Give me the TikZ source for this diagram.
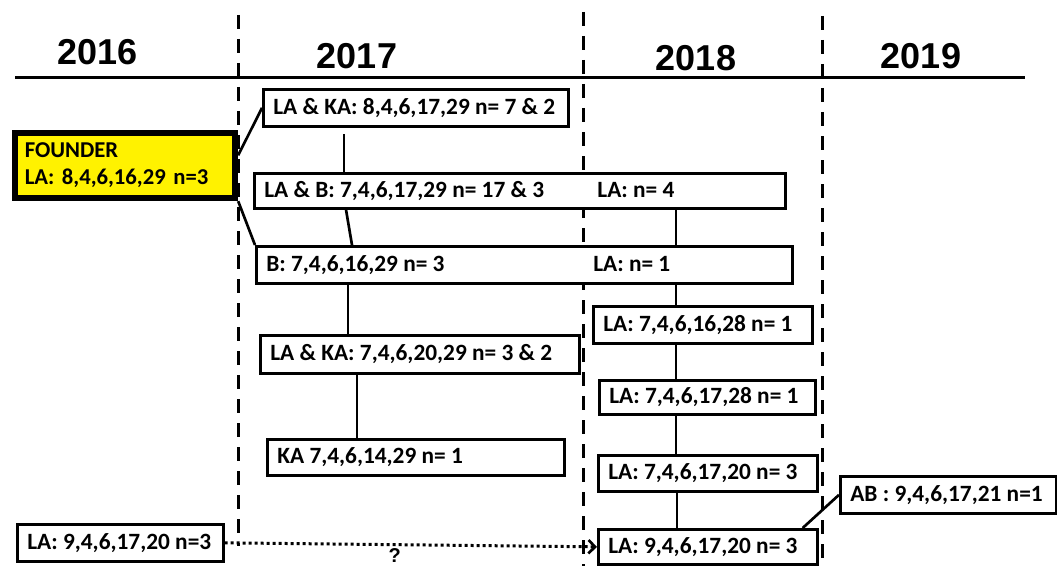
\documentclass[tikz,border=0pt]{standalone}
\usepackage{fontspec}
\setmainfont{Carlito}
\newfontfamily\yearfont{Liberation Sans}
\usetikzlibrary{arrows.meta}
\newcommand\bx[6]{%
  \pgfmathsetmacro\bxw{(#4-#2)*0.75}%
  \pgfmathsetmacro\bxh{(#5-#3)*0.75}%
  \pgfmathsetmacro\bxt{(#4-#2)*0.75-15}%
  \node[box,minimum width=\bxw pt,minimum height=\bxh pt] (#1) at (#2,#3) {\makebox[\bxt pt][l]{#6}};}
\begin{document}
\begin{tikzpicture}[x=0.75pt,y=-0.75pt,
  box/.style={draw,line width=2pt,fill=white,inner xsep=7.5pt,inner ysep=0pt,
    anchor=north west,font=\fontsize{17.5}{20}\selectfont\bfseries},
  founderbox/.style={box,fill=yellow,line width=5pt,align=left},
  link/.style={line width=2pt},
  yearlabel/.style={font=\yearfont\fontsize{27}{30}\selectfont\bfseries},
  sepline/.style={line width=2.25pt,dash pattern=on 10.5pt off 7.5pt}]
\useasboundingbox (0,0) rectangle (1057,567);
% year labels
\node[yearlabel] (y16) at (97.5,52) {2016};
\node[yearlabel] (y17) at (357,56) {2017};
\node[yearlabel] (y18) at (696,58) {2018};
\node[yearlabel] (y19) at (921,56) {2019};
% time axis and separators
\draw[line width=2.25pt] (15,78) -- (1025,78);
\draw[sepline] (238,15) -- (238,546);
\draw[sepline] (583,12) -- (583,566);
\draw[sepline] (822,16) -- (822,560);
% boxes
\node[founderbox,minimum width=165pt,minimum height=48.75pt,text width=150pt,
  font=\fontsize{17}{20}\selectfont\bfseries] (f) at (11.5,129.5) {FOUNDER\\LA: 8,4,6,16,29 n=3};
\bx{b2}{262}{88}{567}{125}{LA \& KA: 8,4,6,17,29 n= 7 \& 2}
\bx{b3}{253}{172}{784}{207}{\makebox[249.75pt][l]{LA \& B: 7,4,6,17,29 n= 17 \& 3}LA: n= 4}
\bx{b4}{255}{245}{791}{282}{\makebox[245.25pt][l]{B: 7,4,6,16,29 n= 3}LA: n= 1}
\bx{b5}{592}{305}{811}{342}{LA: 7,4,6,16,28 n= 1}
\bx{b6}{259}{334}{578}{372}{LA \& KA: 7,4,6,20,29 n= 3 \& 2}
\bx{b7}{598}{379}{814}{413}{LA: 7,4,6,17,28 n= 1}
\bx{b8}{266}{438}{563}{474}{KA 7,4,6,14,29 n= 1}
\bx{b9}{597}{454}{816}{490}{LA: 7,4,6,17,20 n= 3}
\bx{b10}{839}{475}{1055}{512}{AB : 9,4,6,17,21 n=1}
\bx{b11}{597}{528}{816}{563}{LA: 9,4,6,17,20 n= 3}
\bx{b12}{16}{523}{222}{560}{LA: 9,4,6,17,20 n=3}
% connectors
\draw[link] ([yshift=7.5pt]f.east) -- (b2.west);
\draw[link] (f.south east) -- (b4.north west);
\draw[link,shorten <=5pt] ([xshift=61.5pt]b2.south west) -- ([xshift=61.5pt]b2.south west |- b3.north);
\draw[link] ([xshift=69.75pt]b3.south west) -- ([xshift=72.75pt]b4.north west);
\draw[link] ([xshift=69.75pt]b4.south west) -- ([xshift=69.75pt]b4.south west |- b6.north);
\draw[link] ([xshift=73.5pt]b6.south west) -- ([xshift=73.5pt]b6.south west |- b8.north);
\draw[link] ([xshift=317.25pt]b3.south west) -- ([xshift=317.25pt]b3.south west |- b4.north);
\draw[link] ([xshift=315.75pt]b4.south west) -- ([xshift=315.75pt]b4.south west |- b5.north);
\draw[link] ([xshift=63pt]b5.south west) -- ([xshift=63pt]b5.south west |- b7.north);
\draw[link] ([xshift=58.5pt]b7.south west) -- ([xshift=58.5pt]b7.south west |- b9.north);
\draw[link] ([xshift=60pt]b9.south west) -- ([xshift=60pt]b9.south west |- b11.north);
\draw[link] ([xshift=-12pt]b11.north east) -- (b10.west);
\draw[link,line width=2.25pt,dash pattern=on 2.25pt off 2.25pt,
  -{Straight Barb[length=5pt,width=10pt,line width=2pt]}]
  (b12.east) -- node[pos=0.457,anchor=north,yshift=-2pt,inner sep=0pt,
    font=\yearfont\fontsize{15}{17}\selectfont\bfseries] (q) {?} (b11.west);
\end{tikzpicture}
\end{document}
